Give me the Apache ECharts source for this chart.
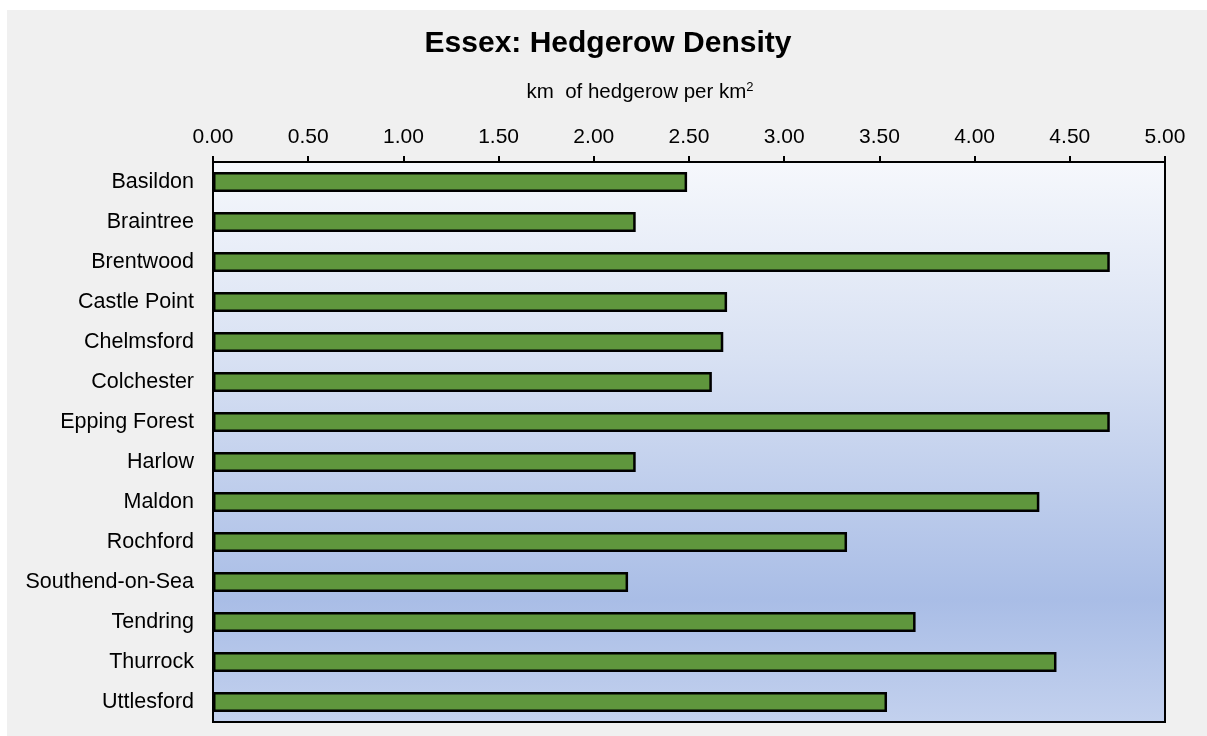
<!DOCTYPE html>
<html>
<head>
<meta charset="utf-8">
<script src="https://cdn.jsdelivr.net/npm/echarts@6/dist/echarts.min.js"></script>
<style>
  html, body { margin: 0; padding: 0; background: #ffffff; }
  #card { position: absolute; left: 7px; top: 10px; width: 1200px; height: 726px; background: #f0f0f0; }
  #chart { position: absolute; left: 0; top: 0; width: 1207px; height: 736px; }
</style>
</head>
<body>
<div id="card"></div>
<div id="chart"></div>
<script>
// ---- data ----
const titleText = 'Essex: Hedgerow Density';
const subtitleText = 'km  of hedgerow per km';
const subtitleSup = '2';
const districts = ['Basildon', 'Braintree', 'Brentwood', 'Castle Point', 'Chelmsford', 'Colchester',
  'Epping Forest', 'Harlow', 'Maldon', 'Rochford', 'Southend-on-Sea', 'Tendring', 'Thurrock', 'Uttlesford'];
const density = [2.49, 2.22, 4.71, 2.70, 2.68, 2.62, 4.71, 2.22, 4.34, 3.33, 2.18, 3.69, 4.43, 3.54];
const axisMin = 0;
const axisMax = 5;
const axisStep = 0.5;

// ---- chart ----
const FONT = '"Liberation Sans", Arial, sans-serif';
const chart = echarts.init(document.getElementById('chart'), null, { renderer: 'canvas' });

const option = {
  backgroundColor: 'transparent',
  animation: false,
  graphic: [
    {
      type: 'text',
      x: 608, y: 44,
      style: {
        text: titleText,
        font: 'bold 30px ' + FONT,
        fill: '#000',
        align: 'center',
        verticalAlign: 'middle'
      }
    },
    {
      type: 'text',
      x: 640, y: 92,
      style: {
        text: subtitleText + '{sup|' + subtitleSup + '}',
        fontFamily: FONT,
        fontSize: 20.5,
        fill: '#000',
        align: 'center',
        verticalAlign: 'middle',
        rich: {
          sup: { fontSize: 13, fontFamily: FONT, fill: '#000', color: '#000', padding: [0, 0, 10, 0] }
        }
      }
    }
  ],
  grid: {
    left: 213, top: 162, width: 952, height: 560,
    show: true,
    borderColor: '#000',
    borderWidth: 2,
    backgroundColor: new echarts.graphic.LinearGradient(0, 0, 0, 1, [
      { offset: 0, color: '#f6f8fc' },
      { offset: 0.35, color: '#d8e1f3' },
      { offset: 0.78, color: '#a9bde6' },
      { offset: 1, color: '#c3d1ee' }
    ])
  },
  xAxis: {
    type: 'value',
    position: 'top',
    min: axisMin,
    max: axisMax,
    interval: axisStep,
    axisLine: { show: true, lineStyle: { color: '#000', width: 2 } },
    axisTick: { show: true, inside: false, length: 6, lineStyle: { color: '#000', width: 2 } },
    splitLine: { show: false },
    axisLabel: {
      color: '#000',
      fontFamily: FONT,
      fontSize: 21,
      margin: 14,
      formatter: v => v.toFixed(2)
    }
  },
  yAxis: {
    type: 'category',
    data: districts,
    inverse: true,
    axisLine: { show: true, lineStyle: { color: '#000', width: 2 } },
    axisTick: { show: false },
    splitLine: { show: false },
    axisLabel: {
      color: '#000',
      fontFamily: FONT,
      fontSize: 21.5,
      margin: 19
    }
  },
  series: [
    {
      type: 'bar',
      data: density,
      barWidth: 20,
      itemStyle: {
        color: '#5f963d',
        borderColor: '#000',
        borderWidth: 2.5
      }
    }
  ]
};
chart.setOption(option);
</script>
</body>
</html>
